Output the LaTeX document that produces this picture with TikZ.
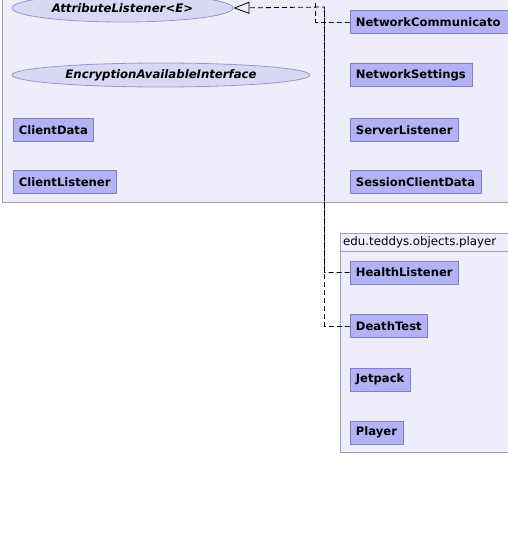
\documentclass[tikz,border=0pt]{standalone}
\usepackage{fontspec}
\setsansfont{DejaVu Sans}
\usetikzlibrary{arrows.meta,shapes.geometric}

\definecolor{pkgfill}{RGB}{238,238,250}
\definecolor{pkgline}{RGB}{160,160,180}
\definecolor{clsfill}{RGB}{178,178,245}
\definecolor{clsline}{RGB}{128,128,200}
\definecolor{iffill}{RGB}{216,216,245}
\definecolor{ifline}{RGB}{150,150,200}

\tikzset{
  pkg/.style={draw=pkgline,fill=pkgfill,line width=0.8pt},
  cls/.style={draw=clsline,fill=clsfill,line width=0.8pt,anchor=north west,
    minimum height=23pt,inner xsep=6pt,inner ysep=0pt,
    font=\sffamily\bfseries\fontsize{11.6}{13}\selectfont},
  iface/.style={draw=ifline,fill=iffill,line width=0.8pt,ellipse,inner sep=0pt,
    font=\sffamily\bfseries\itshape\fontsize{11.7}{13}\selectfont},
  realize/.style={dash pattern=on 5pt off 3pt,line width=0.8pt},
}

\begin{document}
\begin{tikzpicture}[x=1pt,y=-1pt]
  \clip (0,0) rectangle (508,536);
  \fill[white] (0,0) rectangle (508,536);
  % packages
  \draw[pkg] (2.5,-20) rectangle (530,202);
  \draw[pkg] (340,233) rectangle (530,452);
  \draw[pkgline,line width=0.8pt] (340,251) -- (530,251);
  \node[anchor=west,inner sep=0pt,font=\sffamily\fontsize{11.8}{13}\selectfont] (pkgname) at (343,242) {edu.teddys.objects.player};
  % interfaces
  \node[iface,minimum width=221pt,minimum height=28pt] (attr) at (122.5,8) {AttributeListener<E>};
  \node[iface,minimum width=298pt,minimum height=24pt] (enc) at (161,75) {EncryptionAvailableInterface};
  % classes
  \node[cls] (clientdata) at (12.5,118) {ClientData};
  \node[cls] (clientlist) at (12.5,170) {ClientListener};
  \node[cls,text width=190pt] (netcomm) at (349.5,10) {NetworkCommunicato};
  \node[cls] (netset) at (349.5,63) {NetworkSettings};
  \node[cls] (serverlist) at (349.5,118) {ServerListener};
  \node[cls] (session) at (349.5,170) {SessionClientData};
  \node[cls] (health) at (349.5,260.5) {HealthListener};
  \node[cls] (death) at (349.5,314) {DeathTest};
  \node[cls] (jetpack) at (349.5,367.5) {Jetpack};
  \node[cls] (player) at (349.5,420.5) {Player};
  % realizations
  \coordinate (join) at (324.5,7);
  \coordinate (up) at (315.5,-10);
  \draw[realize,-{Triangle[open,length=16pt,width=12pt]}] (health.west) -| (join) -- (attr.east);
  \draw[realize] (death.west) -| (join);
  \draw[realize] (netcomm.west) -| (up);
\end{tikzpicture}
\end{document}
